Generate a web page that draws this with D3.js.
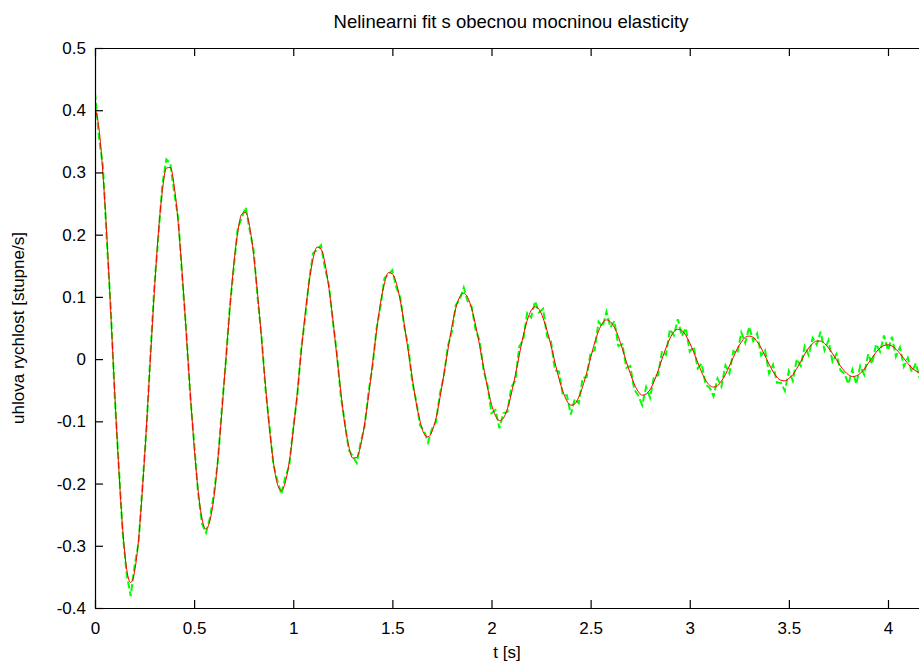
<!DOCTYPE html>
<html>
<head>
<meta charset="utf-8">
<script src="https://cdn.jsdelivr.net/npm/d3@7/dist/d3.min.js"></script>
<style>
  html, body { margin: 0; padding: 0; background: #fff; }
  text { font-family: "Liberation Sans", Arial, sans-serif; fill: #000; }
</style>
</head>
<body>
<svg id="chart" width="919" height="664"></svg>
<script>
// ---- data ----
const title = "Nelinearni fit s obecnou mocninou elasticity";
const xLabel = "t [s]";
const yLabel = "uhlova rychlost [stupne/s]";
const xTicks = [0, 0.5, 1, 1.5, 2, 2.5, 3, 3.5, 4];
const xTickLabels = ["0", "0.5", "1", "1.5", "2", "2.5", "3", "3.5", "4"];
const yTicks = [-0.4, -0.3, -0.2, -0.1, 0, 0.1, 0.2, 0.3, 0.4, 0.5];
const yTickLabels = ["-0.4", "-0.3", "-0.2", "-0.1", "0", "0.1", "0.2", "0.3", "0.4", "0.5"];
const sampleStep = 0.02; // seconds between samples (t = 0, 0.02, ... 4.16)

// fitted curve (red)
const fitValues = [
  0.403, 0.371, 0.298, 0.196, 0.072, -0.057, -0.176, -0.275, -0.338, -0.359,
  -0.341, -0.289, -0.206, -0.106, 0.004, 0.112, 0.204, 0.271, 0.307, 0.308,
  0.277, 0.218, 0.137, 0.043, -0.052, -0.140, -0.211, -0.257, -0.273, -0.259,
  -0.222, -0.160, -0.084, -0.001, 0.080, 0.152, 0.204, 0.233, 0.236, 0.213,
  0.168, 0.105, 0.033, -0.043, -0.112, -0.166, -0.201, -0.211, -0.198, -0.165,
  -0.115, -0.056, 0.010, 0.072, 0.124, 0.161, 0.180, 0.177, 0.154, 0.114,
  0.063, 0.004, -0.053, -0.105, -0.140, -0.159, -0.158, -0.139, -0.104, -0.059,
  -0.007, 0.045, 0.090, 0.122, 0.139, 0.137, 0.122, 0.094, 0.056, 0.013,
  -0.030, -0.070, -0.100, -0.120, -0.125, -0.116, -0.095, -0.062, -0.024, 0.015,
  0.052, 0.082, 0.100, 0.106, 0.099, 0.081, 0.054, 0.022, -0.013, -0.046,
  -0.073, -0.091, -0.099, -0.095, -0.080, -0.056, -0.026, 0.006, 0.037, 0.062,
  0.078, 0.084, 0.080, 0.066, 0.046, 0.022, -0.005, -0.031, -0.052, -0.067,
  -0.074, -0.072, -0.061, -0.044, -0.022, 0.002, 0.026, 0.045, 0.058, 0.063,
  0.060, 0.051, 0.036, 0.017, -0.004, -0.023, -0.040, -0.052, -0.058, -0.056,
  -0.049, -0.036, -0.019, 0.000, 0.018, 0.033, 0.044, 0.048, 0.046, 0.038,
  0.026, 0.011, -0.005, -0.021, -0.034, -0.042, -0.045, -0.043, -0.035, -0.025,
  -0.011, 0.003, 0.017, 0.027, 0.035, 0.037, 0.035, 0.028, 0.018, 0.005,
  -0.008, -0.020, -0.029, -0.034, -0.035, -0.031, -0.025, -0.015, -0.004, 0.008,
  0.018, 0.025, 0.029, 0.029, 0.025, 0.018, 0.009, -0.001, -0.011, -0.019,
  -0.025, -0.028, -0.027, -0.023, -0.016, -0.007, 0.002, 0.011, 0.018, 0.022,
  0.023, 0.021, 0.016, 0.009, 0.001, -0.007, -0.014, -0.019, -0.022
];

const measuredValues = [
  0.428, 0.356, 0.310, 0.188, 0.078, -0.062, -0.172, -0.281, -0.346, -0.381,
  -0.331, -0.295, -0.201, -0.110, 0.010, 0.120, 0.199, 0.281, 0.321, 0.314,
  0.267, 0.226, 0.131, 0.047, -0.057, -0.134, -0.215, -0.265, -0.279, -0.255,
  -0.216, -0.164, -0.079, -0.004, 0.084, 0.147, 0.210, 0.227, 0.244, 0.208,
  0.175, 0.099, 0.037, -0.048, -0.107, -0.170, -0.195, -0.217, -0.190, -0.171,
  -0.110, -0.060, 0.017, 0.066, 0.127, 0.170, 0.176, 0.183, 0.146, 0.119,
  0.060, 0.010, -0.060, -0.101, -0.146, -0.156, -0.167, -0.134, -0.108, -0.052,
  -0.012, 0.049, 0.084, 0.130, 0.136, 0.143, 0.115, 0.099, 0.052, 0.021,
  -0.036, -0.067, -0.107, -0.115, -0.134, -0.112, -0.101, -0.055, -0.027, 0.021,
  0.044, 0.087, 0.096, 0.115, 0.093, 0.084, 0.047, 0.030, -0.018, -0.042,
  -0.087, -0.082, -0.111, -0.087, -0.085, -0.045, -0.035, 0.020, 0.031, 0.074,
  0.067, 0.093, 0.075, 0.081, 0.037, 0.029, -0.018, -0.020, -0.058, -0.058,
  -0.089, -0.064, -0.071, -0.030, -0.029, 0.011, 0.014, 0.060, 0.052, 0.076,
  0.051, 0.061, 0.021, 0.024, -0.014, -0.011, -0.049, -0.058, -0.074, -0.045,
  -0.062, -0.027, -0.026, 0.013, 0.007, 0.048, 0.038, 0.064, 0.037, 0.050,
  0.012, 0.020, -0.015, -0.007, -0.041, -0.046, -0.060, -0.031, -0.044, -0.010,
  -0.023, 0.013, 0.009, 0.043, 0.026, 0.052, 0.029, 0.041, 0.006, 0.014,
  -0.023, -0.009, -0.038, -0.038, -0.051, -0.019, -0.035, 0.000, -0.011, 0.021,
  0.006, 0.034, 0.023, 0.044, 0.014, 0.030, -0.004, 0.008, -0.018, -0.023,
  -0.040, -0.017, -0.040, -0.011, -0.025, 0.008, -0.008, 0.024, 0.012, 0.038,
  0.014, 0.036, 0.004, 0.019, -0.012, 0.002, -0.021, -0.007, -0.031
];

// ---- drawing ----
const W = 919, H = 664;
const svg = d3.select("#chart");
const x = d3.scaleLinear().domain([0, 4.2]).range([95, 927.65]);
const y = d3.scaleLinear().domain([-0.4, 0.5]).range([608, 48]);

const fit = fitValues.map((v, i) => ({ t: i * sampleStep, v }));
const meas = measuredValues.map((v, i) => ({ t: i * sampleStep, v }));

svg.append("defs").append("clipPath").attr("id", "clip")
  .append("rect").attr("x", 95).attr("y", 48).attr("width", W - 95).attr("height", 560);

const plot = svg.append("g").attr("clip-path", "url(#clip)");

plot.append("path")
  .datum(meas)
  .attr("fill", "none")
  .attr("stroke", "#00ff00")
  .attr("stroke-width", 2)
  .attr("stroke-dasharray", "7,3")
  .attr("d", d3.line().x(d => x(d.t)).y(d => y(d.v)).curve(d3.curveLinear));

plot.append("path")
  .datum(fit)
  .attr("fill", "none")
  .attr("stroke", "#ff0000")
  .attr("stroke-width", 1)
  .attr("d", d3.line().x(d => x(d.t)).y(d => y(d.v)).curve(d3.curveMonotoneX));

// axes (gnuplot-style border with inward ticks)
const tickLen = 8;
const axisBottom = d3.axisBottom(x).tickValues(xTicks)
  .tickFormat((d, i) => xTickLabels[i]).tickSizeInner(-tickLen).tickSizeOuter(0).tickPadding(14);
const gx = svg.append("g").attr("transform", `translate(0,${y(-0.4)})`).call(axisBottom);

const axisTop = d3.axisTop(x).tickValues(xTicks).tickFormat("").tickSizeInner(-tickLen).tickSizeOuter(0);
const gxt = svg.append("g").attr("transform", `translate(0,${y(0.5)})`).call(axisTop);

const axisLeft = d3.axisLeft(y).tickValues(yTicks)
  .tickFormat((d, i) => yTickLabels[i]).tickSizeInner(-tickLen).tickSizeOuter(0).tickPadding(9);
const gy = svg.append("g").attr("transform", `translate(${x(0)},0)`).call(axisLeft);

[gx, gxt, gy].forEach(g => {
  g.select(".domain").attr("stroke", "#000").attr("stroke-width", 1.2);
  g.selectAll(".tick line").attr("stroke", "#000").attr("stroke-width", 1.2);
  g.selectAll("text").style("font-family", "'Liberation Sans', Arial, sans-serif")
    .style("font-size", "17px").attr("fill", "#000");
});

svg.append("text").attr("x", 511).attr("y", 28).attr("text-anchor", "middle")
  .style("font-size", "18.5px").text(title);
svg.append("text").attr("x", 507).attr("y", 658).attr("text-anchor", "middle")
  .style("font-size", "17px").text(xLabel);
svg.append("text").attr("transform", `translate(24,${(48 + 608) / 2}) rotate(-90)`)
  .attr("text-anchor", "middle").style("font-size", "17px").text(yLabel);
</script>
</body>
</html>
